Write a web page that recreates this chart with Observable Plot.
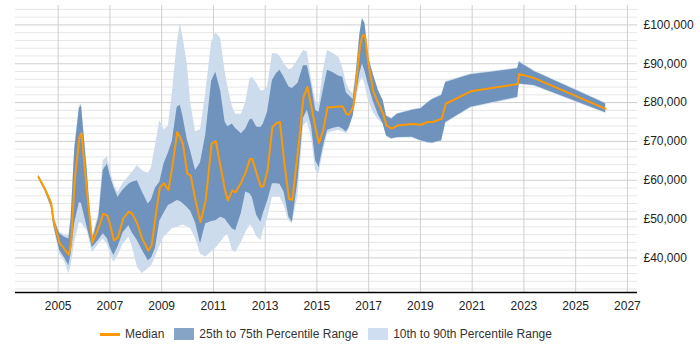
<!DOCTYPE html>
<html>
<head>
<meta charset="utf-8">
<script src="https://cdn.jsdelivr.net/npm/d3@7"></script>
<script src="https://cdn.jsdelivr.net/npm/@observablehq/plot@0.6"></script>
<style>
  html, body { margin: 0; padding: 0; background: #fff; }
  body { width: 700px; height: 350px; overflow: hidden; font-family: "Liberation Sans", Arial, sans-serif; }
  #legend { display: flex; align-items: center; height: 36px; padding-left: 100px; font-size: 12px; color: #333; }
  .item { display: flex; align-items: center; margin-right: 10px; }
  .line { width: 20px; height: 3px; background: #ff9900; margin-right: 5px; }
  .sq { width: 20px; height: 12px; margin-right: 5px; }
</style>
</head>
<body>
<div id="chart"></div>
<div id="legend">
  <div class="item"><div class="line"></div><span>Median</span></div>
  <div class="item"><div class="sq" style="background:#86a4c6"></div><span>25th to 75th Percentile Range</span></div>
  <div class="item"><div class="sq" style="background:#cfdef0"></div><span>10th to 90th Percentile Range</span></div>
</div>
<script>
const years = [2004.24,2004.50,2004.73,2004.83,2005.06,2005.25,2005.41,2005.50,2005.64,2005.82,2005.90,2006.12,2006.32,2006.57,2006.74,2006.90,2007.02,2007.15,2007.31,2007.51,2007.73,2007.86,2008.06,2008.25,2008.48,2008.61,2008.76,2008.93,2009.09,2009.26,2009.41,2009.60,2009.72,2009.82,2009.99,2010.12,2010.31,2010.50,2010.70,2010.93,2011.09,2011.28,2011.45,2011.56,2011.73,2011.86,2012.08,2012.25,2012.41,2012.50,2012.67,2012.83,2012.93,2013.09,2013.28,2013.44,2013.57,2013.73,2013.92,2014.05,2014.27,2014.48,2014.63,2014.79,2014.95,2015.08,2015.24,2015.41,2015.60,2015.85,2016.00,2016.14,2016.24,2016.40,2016.50,2016.66,2016.76,2016.86,2016.99,2017.17,2017.38,2017.56,2017.69,2017.89,2018.11,2018.69,2019.02,2019.27,2019.47,2019.82,2019.98,2020.95,2022.76,2022.82,2023.40,2026.16];
const p10 = [60400,56800,52800,47800,41000,39000,35900,38000,44000,49000,49000,47000,41400,43500,44900,43500,41000,38900,40500,43500,45300,43000,37600,36000,37200,38000,40200,43000,45300,46500,47500,47900,48200,48500,48000,47500,45000,41000,40200,41500,42500,44000,45500,46000,42000,41400,44000,46500,48500,48000,45500,44500,47000,50000,55600,55600,55600,53500,49500,48800,56000,74000,75000,71000,62500,61600,67000,72000,72500,72800,72500,72000,73000,76500,80000,85000,86500,84500,80500,77500,75500,74500,71200,70500,70800,70900,70000,69500,69400,70000,74700,78600,81100,84600,84200,77200];
const p25 = [60600,57200,53200,48300,41900,40000,38000,41000,49000,54300,54000,47900,42700,44600,46200,45000,42500,40600,42800,46500,48300,46500,44500,42000,39300,40000,42500,49500,51500,53500,54000,54800,54500,54000,53000,52000,49000,43600,48800,49400,49600,50500,50000,49000,47500,47000,51500,57000,56500,55600,51000,49200,51500,54500,59100,59100,59000,57000,50500,49200,60000,76000,78000,74000,65000,63300,68500,72800,73300,73700,73200,72400,73500,76500,81000,87500,90000,88000,84500,80500,76800,74500,71400,70700,71000,71100,70200,69700,69600,70200,74900,78800,81400,84800,84400,77400];
const median = [60800,57600,54100,49200,43800,42200,40800,44000,60000,71100,72100,56500,44000,47900,51400,50900,48300,44500,45300,50100,51900,51400,48800,44900,41900,43200,50500,58200,59200,57500,63400,72400,71000,69400,61700,61200,54800,49200,54800,69400,70100,63400,57400,54800,57400,56900,59500,62100,65500,65500,61700,58400,58400,62500,73700,74700,75000,65100,55200,55000,67700,81400,84000,78800,73200,69600,72800,78800,78800,79000,79000,77100,76900,78800,84000,94300,97300,97300,90000,83100,79700,77100,74100,73300,74100,74500,74300,75000,75000,75800,79700,82900,84800,87400,86300,78400];
const p75 = [61200,58000,54700,50200,46200,45300,44900,50000,68000,78500,79200,62500,44500,50500,62500,64200,61000,58200,55600,57500,59000,59500,59900,57000,53900,55000,58000,59500,64200,67000,70000,78800,79300,76500,70500,67500,62500,64500,71500,85500,87800,83000,75000,73800,74500,73300,72000,73200,75500,75800,73700,73600,74500,77500,85700,87500,88300,86500,84000,83600,85000,89500,89500,84500,78000,77500,83000,88300,87800,86800,86500,82500,81800,80800,86000,97500,101600,100300,91700,87400,83000,80500,76500,75800,77000,78000,78400,79800,80800,81800,85200,87200,88700,90400,88000,79700];
const p90 = [61500,58300,55000,50600,46600,46000,45700,51000,69000,79200,79700,63500,45300,51500,65000,66000,62500,59100,56900,59200,61000,62000,63800,62500,61700,63300,69000,75400,73000,74000,82300,95200,100300,97000,90000,80000,72500,73000,82300,95500,98000,96500,88000,84000,79000,77000,77000,80000,86000,86500,85000,83100,83000,84000,92600,92600,92000,90000,88500,88700,91000,93400,93000,86000,80500,79500,88000,93400,92800,91700,89000,85000,83500,82300,87000,98000,101800,100500,92000,87600,83200,80700,76700,76000,77200,78200,78600,80000,81000,82000,85400,87400,88900,90700,88200,79900];

const yTicks = [40000,50000,60000,70000,80000,90000,100000];
const xTicks = [2005,2007,2009,2011,2013,2015,2017,2019,2021,2023,2025,2027];

const data = years.map((x, i) => ({x, p10: p10[i], p25: p25[i], median: median[i], p75: p75[i], p90: p90[i]}));
const minor = d3.range(32000, 105000, 2000).filter(v => v % 10000 !== 0);

const chart = Plot.plot({
  width: 700,
  height: 316,
  marginLeft: 15,
  marginRight: 63,
  marginTop: 5,
  marginBottom: 24,
  style: {fontFamily: '"Liberation Sans", Arial, sans-serif', fontSize: "12px", color: "#222", background: "#fff"},
  x: {domain: [2003.35, 2027.39], ticks: xTicks, tickFormat: d => String(d), tickSize: 0, tickPadding: 9, label: null},
  y: {domain: [31100, 105000], ticks: yTicks, tickFormat: d => "£" + d3.format(",")(d), tickSize: 0, tickPadding: 6, label: null, axis: "right"},
  marks: [
    Plot.ruleY(minor, {stroke: "#e6e6e6", strokeWidth: 1}),
    Plot.ruleY(yTicks, {stroke: "#cfcfcf", strokeWidth: 1}),
    Plot.ruleX(xTicks, {stroke: "#cfcfcf", strokeWidth: 1}),
    Plot.areaY(data, {x: "x", y1: "p10", y2: "p90", fill: "#cddcec"}),
    Plot.areaY(data, {x: "x", y1: "p25", y2: "p75", fill: "#6f93bd"}),
    Plot.lineY(data, {x: "x", y: "median", stroke: "#ff9900", strokeWidth: 2}),
    Plot.ruleY([31100], {stroke: "#000", strokeWidth: 1.5})
  ]
});
document.getElementById("chart").appendChild(chart);
</script>
</body>
</html>
